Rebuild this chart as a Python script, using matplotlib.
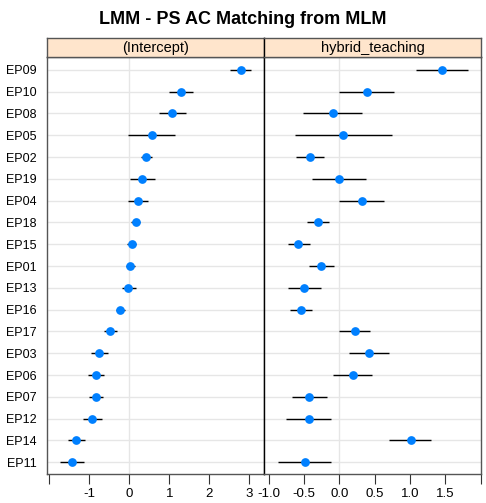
import matplotlib
matplotlib.use("Agg")
import matplotlib.pyplot as plt
import numpy as np

plt.rcParams['font.family'] = ['Liberation Sans', 'DejaVu Sans']
plt.rcParams['axes.unicode_minus'] = False

# groups, top to bottom
groups = ["EP09", "EP10", "EP08", "EP05", "EP02", "EP19", "EP04", "EP18", "EP15",
          "EP01", "EP13", "EP16", "EP17", "EP03", "EP06", "EP07", "EP12", "EP14", "EP11"]

# (Intercept) estimates and interval ends
int_est = [2.78, 1.29, 1.07, 0.56, 0.43, 0.33, 0.22, 0.16, 0.06,
           0.02, -0.02, -0.22, -0.47, -0.75, -0.82, -0.82, -0.92, -1.32, -1.43]
int_lo = [2.52, 1.00, 0.73, -0.03, 0.30, 0.02, -0.03, 0.04, -0.06,
          -0.09, -0.18, -0.33, -0.62, -0.96, -1.03, -1.00, -1.15, -1.52, -1.73]
int_hi = [3.05, 1.58, 1.41, 1.15, 0.58, 0.65, 0.48, 0.27, 0.18,
          0.15, 0.17, -0.10, -0.31, -0.53, -0.62, -0.65, -0.67, -1.11, -1.12]

# hybrid_teaching estimates and interval ends
hyb_est = [1.45, 0.39, -0.09, 0.06, -0.41, -0.01, 0.32, -0.30, -0.58,
           -0.26, -0.50, -0.54, 0.22, 0.42, 0.19, -0.43, -0.43, 1.01, -0.49]
hyb_lo = [1.08, 0.00, -0.51, -0.62, -0.61, -0.39, -0.01, -0.46, -0.73,
          -0.43, -0.73, -0.69, 0.00, 0.14, -0.09, -0.67, -0.75, 0.71, -0.87]
hyb_hi = [1.82, 0.78, 0.32, 0.74, -0.21, 0.38, 0.64, -0.15, -0.42,
          -0.08, -0.26, -0.39, 0.44, 0.70, 0.47, -0.18, -0.11, 1.30, -0.11]

int_ticks = [-2, -1, 0, 1, 2, 3]
int_labels = ["", "-1", "0", "1", "2", "3"]
hyb_ticks = [-1.0, -0.5, 0.0, 0.5, 1.0, 1.5, 2.0]
hyb_labels = ["-1.0", "-0.5", "0.0", "0.5", "1.0", "1.5", ""]

W, H = 486, 503
fig = plt.figure(figsize=(W / 100, H / 100), dpi=100)

def box(x0, y0, x1, y1):
    return [x0 / W, 1 - y1 / H, (x1 - x0) / W, (y1 - y0) / H]

n = len(groups)
ypos = np.arange(n, 0, -1)

panels = [
    ("(Intercept)", int_est, int_lo, int_hi, (-2.06, 3.37), int_ticks, int_labels, 46.7, 264.3),
    ("hybrid_teaching", hyb_est, hyb_lo, hyb_hi, (-1.06, 2.01), hyb_ticks, hyb_labels, 264.3, 481.3),
]

for i, (name, est, lo, hi, xlim, ticks, labels, x0, x1) in enumerate(panels):
    ax = fig.add_axes(box(x0, 56.7, x1, 474.3))
    for y in ypos:
        ax.axhline(y, color="#e6e6e6", lw=1, zorder=0)
    ax.axvline(0, color="#e6e6e6", lw=1, zorder=0)
    ax.hlines(ypos, lo, hi, color="black", lw=1, zorder=2)
    ax.plot(est, ypos, "o", color="#0080ff", ms=6.3, mec="none", zorder=3)
    ax.set_xlim(*xlim)
    ax.set_ylim(0.45, 19.6)
    ax.set_xticks(ticks)
    ax.set_xticklabels(labels, fontsize=9.5)
    ax.tick_params(axis="x", direction="out", length=7, color="#333333", pad=3)
    if i == 0:
        ax.set_yticks(ypos)
        ax.set_yticklabels(groups, fontsize=9)
        ax.tick_params(axis="y", length=0, pad=7)
    else:
        ax.set_yticks([])
    for s in ax.spines.values():
        s.set_color("#555555")
        s.set_linewidth(1)
    if i == 1:
        ax.spines["left"].set_color("black")

    sax = fig.add_axes(box(x0, 38.3, x1, 56.7))
    sax.set_facecolor("#ffe5cc")
    sax.set_xticks([])
    sax.set_yticks([])
    for s in sax.spines.values():
        s.set_color("#555555")
        s.set_linewidth(1)
    if i == 1:
        sax.spines["left"].set_color("black")
    sax.text(0.5, 0.45, name, transform=sax.transAxes, ha="center", va="center", fontsize=10.5)

fig.text(0.5, 1 - 20 / H, "LMM - PS AC Matching from MLM", ha="center", va="center",
         fontsize=13, fontweight="bold")

fig.savefig("out.png", dpi=100)
